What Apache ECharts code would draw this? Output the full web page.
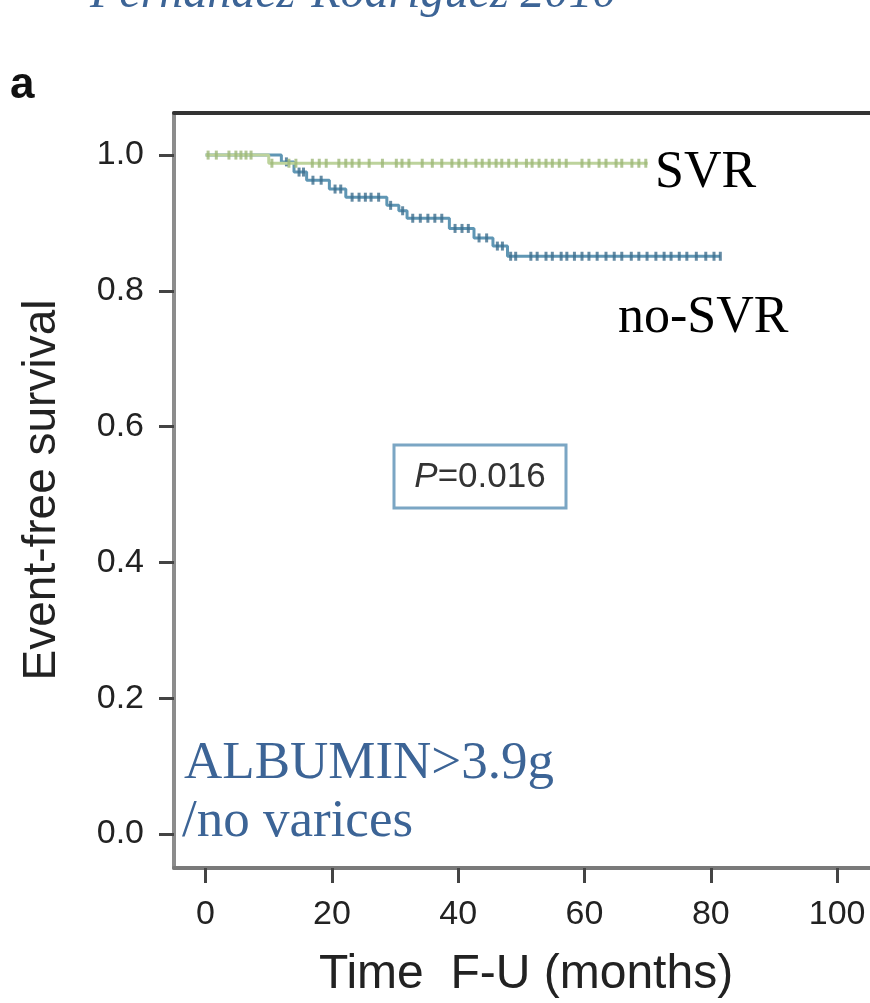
<!DOCTYPE html>
<html>
<head>
<meta charset="utf-8">
<script src="https://cdn.jsdelivr.net/npm/echarts@6/dist/echarts.min.js"></script>
<style>
  html, body { margin: 0; padding: 0; background: #fff; }
  #chart { width: 870px; height: 1003px; }
</style>
</head>
<body>
<div id="chart"></div>
<script>
// Axis ticks
const xTicks = [0, 20, 40, 60, 80, 100];
const yTicks = [0, 0.2, 0.4, 0.6, 0.8, 1.0];

// Kaplan-Meier step curves (time in months, event-free survival)
const svrTimes = [0, 10, 70];
const svrSurv = [1.0, 0.988, 0.988];
const noSvrTimes = [0, 12, 14, 16, 19.6, 22.2, 28.7, 30.6, 31.9, 38.6, 42.5, 45.5, 47.8, 81.5];
const noSvrSurv = [1.0, 0.990, 0.975, 0.963, 0.950, 0.938, 0.926, 0.918, 0.907, 0.892, 0.878, 0.866, 0.851, 0.851];

// Censoring times
const svrCensor = [0.4, 1.7, 3.7, 4.8, 5.6, 6.4, 7.2,
  10.5, 13.2, 14.3, 16.9, 18.0, 19.1, 21.1, 22.2, 23.2, 24.3, 25.9, 28.0, 30.2, 31.1, 32.2,
  34.3, 35.9, 37.4, 39.0, 40.1, 41.2, 42.8, 43.8, 44.9, 46.0, 46.9, 48.0, 49.2, 50.8, 51.7,
  52.8, 53.9, 54.9, 56.0, 57.1, 59.6, 60.7, 62.3, 63.4, 65.0, 65.9, 67.5, 68.6, 69.7];
const noSvrCensor = [12.8, 14.8, 15.5, 17.0, 18.3, 20.5, 21.4, 23.2, 24.3, 25.3, 26.2, 27.4,
  29.3, 31.2, 32.8, 34.0, 35.2, 36.3, 37.4, 39.5, 40.6, 41.6, 43.3, 44.5, 46.2, 47.0,
  48.3, 49.1, 51.5, 52.5, 53.9, 54.9, 56.3, 57.2, 58.4, 59.6, 60.7, 62.0, 63.4, 64.7, 65.9,
  67.4, 68.6, 69.9, 71.3, 72.6, 73.7, 75.0, 76.2, 77.7, 79.2, 80.5, 81.5];

function survAt(times, surv, t) {
  let v = surv[0];
  for (let i = 0; i < times.length; i++) { if (times[i] <= t) v = surv[i]; }
  return v;
}
const pairs = (a, b) => a.map((t, i) => [t, b[i]]);
const censorPts = (ts, times, surv) => ts.map(t => [t, survAt(times, surv, t)]);

const GREEN = '#bdd39c', GREEN_DK = '#9db878';
const BLUE = '#5f96b4', BLUE_DK = '#3d6e8d';
const ANNOT = '#3c6496';

const chart = echarts.init(document.getElementById('chart'), null, { renderer: 'canvas' });
chart.setOption({
  animation: false,
  backgroundColor: '#fff',
  grid: { left: 174, top: 113, width: 696, height: 755, show: false },
  xAxis: [{
    type: 'value', min: -5, max: 105.2,
    splitLine: { show: false },
    axisLine: { show: true, onZero: false, lineStyle: { color: '#7a7a7a', width: 4 } },
    axisTick: { show: true, customValues: xTicks, length: 15, lineStyle: { color: '#444', width: 3 } },
    axisLabel: { customValues: xTicks, fontSize: 34, color: '#222', margin: 30, fontFamily: 'Liberation Sans' }
  }, {
    // top frame line
    type: 'value', position: 'top', min: -5, max: 105.2,
    splitLine: { show: false }, axisTick: { show: false }, axisLabel: { show: false },
    axisLine: { show: true, onZero: false, lineStyle: { color: '#333', width: 4 } }
  }],
  yAxis: {
    type: 'value', min: -0.05, max: 1.062,
    splitLine: { show: false },
    axisLine: { show: true, onZero: false, lineStyle: { color: '#8c8c8c', width: 4 } },
    axisTick: { show: true, customValues: yTicks, length: 15, lineStyle: { color: '#444', width: 3 } },
    axisLabel: { customValues: yTicks, fontSize: 34, color: '#222', margin: 30, fontFamily: 'Liberation Sans',
      formatter: v => v.toFixed(1) }
  },
  series: [
    { type: 'line', step: 'end', data: pairs(noSvrTimes, noSvrSurv), symbol: 'none', z: 2,
      lineStyle: { color: BLUE, width: 3 } },
    { type: 'scatter', data: censorPts(noSvrCensor, noSvrTimes, noSvrSurv), symbol: 'rect',
      symbolSize: [3, 9], itemStyle: { color: BLUE_DK }, z: 3 },
    { type: 'line', step: 'end', data: pairs(svrTimes, svrSurv), symbol: 'none', z: 4,
      lineStyle: { color: GREEN, width: 3 } },
    { type: 'scatter', data: censorPts(svrCensor, svrTimes, svrSurv), symbol: 'rect',
      symbolSize: [3, 9], itemStyle: { color: GREEN_DK }, z: 5 }
  ],
  graphic: [
    { type: 'text', x: 90, y: -6, style: { text: 'Fernandez-Rodriguez 2010', fill: ANNOT,
      font: 'italic 48px "Liberation Serif"', align: 'left', verticalAlign: 'middle' } },
    { type: 'text', x: 10, y: 86, style: { text: 'a', fill: '#111',
      font: 'bold 44px "Liberation Sans"', align: 'left', verticalAlign: 'middle' } },
    { type: 'text', x: 42, y: 490, rotation: Math.PI / 2, style: { text: 'Event-free survival', fill: '#222',
      font: '46px "Liberation Sans"', align: 'center', verticalAlign: 'middle' } },
    { type: 'text', x: 526, y: 975, style: { text: 'Time  F-U (months)', fill: '#222',
      font: '48px "Liberation Sans"', align: 'center', verticalAlign: 'middle' } },
    { type: 'text', x: 655, y: 173, z: 10, style: { text: 'SVR', fill: '#000',
      font: '52px "Liberation Serif"', align: 'left', verticalAlign: 'middle' } },
    { type: 'text', x: 618, y: 318, z: 10, style: { text: 'no-SVR', fill: '#000',
      font: '52px "Liberation Serif"', align: 'left', verticalAlign: 'middle' } },
    { type: 'text', x: 184, y: 764, z: 10, style: { text: 'ALBUMIN>3.9g', fill: ANNOT,
      font: '53px "Liberation Serif"', align: 'left', verticalAlign: 'middle' } },
    { type: 'text', x: 182, y: 822, z: 10, style: { text: '/no varices', fill: ANNOT,
      font: '53px "Liberation Serif"', align: 'left', verticalAlign: 'middle' } },
    { type: 'rect', z: 10, shape: { x: 394, y: 445, width: 172, height: 63 },
      style: { fill: '#fff', stroke: '#7ba6c4', lineWidth: 3 } },
    { type: 'text', x: 480, y: 477, z: 11, style: {
      text: '{i|P}{n|=0.016}', align: 'center', verticalAlign: 'middle',
      rich: {
        i: { fontStyle: 'italic', fontSize: 35, fontFamily: 'Liberation Sans', fill: '#333', color: '#333' },
        n: { fontSize: 35, fontFamily: 'Liberation Sans', fill: '#333', color: '#333' }
      } } }
  ]
});
</script>
</body>
</html>
